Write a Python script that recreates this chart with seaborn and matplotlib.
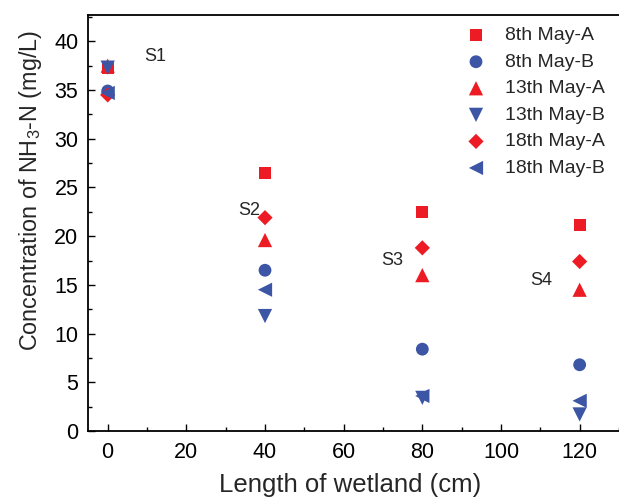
import matplotlib
matplotlib.use("Agg")
import matplotlib.pyplot as plt
import seaborn as sns
import pandas as pd
from matplotlib.ticker import MultipleLocator

# Wetland length (cm) at each sampling site
lengths = [0, 40, 80, 120]
site_labels = ["S1", "S2", "S3", "S4"]
series_names = ["8th May-A", "8th May-B", "13th May-A",
                "13th May-B", "18th May-A", "18th May-B"]

# NH3-N concentrations (mg/L) for each series at S1..S4
may8_a = [37.3, 26.5, 22.5, 21.1]
may8_b = [34.9, 16.5, 8.4, 6.8]
may13_a = [37.5, 19.6, 16.0, 14.5]
may13_b = [37.3, 11.8, 3.4, 1.7]
may18_a = [34.5, 21.9, 18.8, 17.4]
may18_b = [34.7, 14.5, 3.6, 3.1]

series_values = [may8_a, may8_b, may13_a, may13_b, may18_a, may18_b]

# Site label anchor positions (data coords)
label_x = [12, 36, 72.3, 110.3]
label_y = [38.4, 22.6, 17.5, 15.4]

records = []
for name, vals in zip(series_names, series_values):
    for x, v in zip(lengths, vals):
        records.append({"Length": x, "Conc": v, "Series": name})
df = pd.DataFrame(records)

sns.set_style("ticks")
plt.rcParams["font.family"] = ["Liberation Sans", "DejaVu Sans"]
plt.rcParams["mathtext.default"] = "regular"

red = "#ED1C24"
blue = "#3C55A5"
palette = {"8th May-A": red, "8th May-B": blue, "13th May-A": red,
           "13th May-B": blue, "18th May-A": red, "18th May-B": blue}
markers = {"8th May-A": "s", "8th May-B": "o", "13th May-A": "^",
           "13th May-B": "v", "18th May-A": "D", "18th May-B": "<"}
sizes = {"s": 75, "o": 85, "^": 105, "v": 105, "D": 60, "<": 105}

fig = plt.figure(figsize=(6.19, 4.97), dpi=100)
ax = fig.add_axes([0.1422, 0.1328, 0.88, 0.837])

# Plot each series in order so overlapping points stack like the legend order
for name in series_names:
    sub = df[df["Series"] == name]
    sns.scatterplot(data=sub, x="Length", y="Conc", ax=ax,
                    color=palette[name], marker=markers[name],
                    s=sizes[markers[name]], edgecolor="none",
                    linewidth=0, label=name, zorder=3)

for lx, ly, txt in zip(label_x, label_y, site_labels):
    ax.text(lx, ly, txt, fontsize=13, ha="center", va="center")

ax.set_xlim(-5, 133.5)
ax.set_ylim(0, 42.7)
ax.xaxis.set_major_locator(MultipleLocator(20))
ax.xaxis.set_minor_locator(MultipleLocator(10))
ax.yaxis.set_major_locator(MultipleLocator(5))
ax.yaxis.set_minor_locator(MultipleLocator(2.5))
ax.tick_params(which="both", direction="in", top=False, right=False,
               width=1.0, labelsize=15.5, colors="black")
ax.tick_params(axis="x", pad=8)
ax.tick_params(axis="y", pad=7)
ax.tick_params(which="major", length=5)
ax.tick_params(which="minor", length=3)
for side in ["left", "bottom", "top", "right"]:
    ax.spines[side].set_linewidth(1.3)
    ax.spines[side].set_color("black")

ax.set_xlabel("Length of wetland (cm)", fontsize=18.5)
ax.set_ylabel("Concentration of NH$_3$-N (mg/L)", fontsize=16.8)
ax.xaxis.set_label_coords(0.482, -0.101)
ax.yaxis.set_label_coords(-0.080, 0.579)

leg = ax.legend(loc="upper left", frameon=False, fontsize=14,
                handletextpad=0.5, labelspacing=0.46,
                bbox_to_anchor=(0.725, 0.962),
                bbox_transform=fig.transFigure, borderaxespad=0)

fig.savefig("out.png", dpi=100)
